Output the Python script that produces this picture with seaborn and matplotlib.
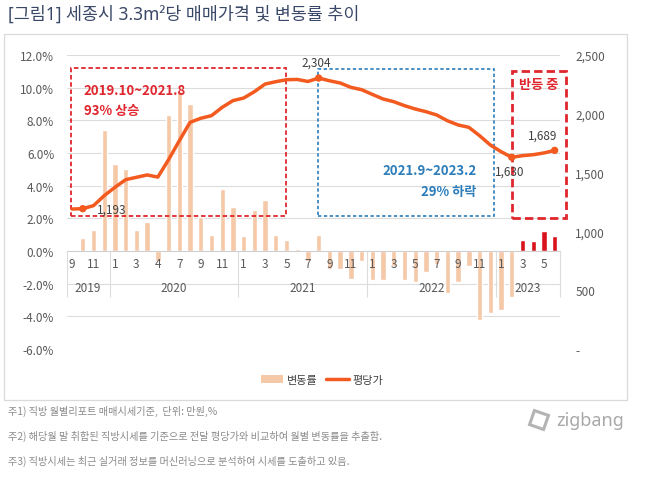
# 세종시 3.3m²당 매매가격 및 변동률 추이 (직방)

import numpy as np
import pandas as pd
import seaborn as sns
import matplotlib.pyplot as plt
import matplotlib.transforms as mtransforms
from matplotlib.patches import Patch, Rectangle, RegularPolygon
from matplotlib.lines import Line2D

# data

months = ["2019-09", "2019-10", "2019-11", "2019-12",
          "2020-01", "2020-02", "2020-03", "2020-04", "2020-05", "2020-06",
          "2020-07", "2020-08", "2020-09", "2020-10", "2020-11", "2020-12",
          "2021-01", "2021-02", "2021-03", "2021-04", "2021-05", "2021-06",
          "2021-07", "2021-08", "2021-09", "2021-10", "2021-11", "2021-12",
          "2022-01", "2022-02", "2022-03", "2022-04", "2022-05", "2022-06",
          "2022-07", "2022-08", "2022-09", "2022-10", "2022-11", "2022-12",
          "2023-01", "2023-02", "2023-03", "2023-04", "2023-05", "2023-06"]

month_labels = ["9", "11", "1", "3", "4", "7", "9", "11", "1", "3", "5", "7",
                "9", "11", "1", "3", "5", "7", "9", "11", "1", "3", "5"]

rates = [0.0, 0.8, 1.3, 7.4,
         5.3, 5.0, 1.3, 1.8, -0.6, 8.3, 9.8, 9.0, 2.1, 1.0, 3.8, 2.7,
         0.9, 2.5, 3.1, 1.0, 0.7, 0.1, -0.6, 1.0, -1.1, -1.1, -1.7, -0.6,
         -1.8, -1.8, -0.9, -1.8, -1.9, -1.3, -0.8, -2.6, -1.9, -0.9, -4.2, -3.8,
         -3.6, -2.8, 0.7, 0.6, 1.2, 0.9]

prices = [1190, 1193, 1219, 1304,
          1375, 1440, 1460, 1480, 1462, 1610, 1771, 1927, 1962, 1984, 2055, 2112,
          2134, 2188, 2253, 2273, 2290, 2292, 2275, 2304, 2281, 2262, 2225, 2205,
          2165, 2126, 2103, 2069, 2041, 2018, 1990, 1941, 1905, 1885, 1814, 1735,
          1678, 1630, 1644, 1652, 1667, 1689]

# labelled points on the price line: index, text offset (px)
labelled = {1: (14, 0), 23: (-2, 16), 41: (-2, -14), 45: (-12, 15)}

peach = "#F5C8A8"
red = "#D9131C"
line_color = "#F25A1F"
grid_color = "#DCDCDC"
tick_color = "#595959"

df = pd.DataFrame({"month": months, "rate": rates, "price": prices})
df["pos"] = np.arange(len(df))
df["year"] = df["month"].str[:4]
bar_colors = [red if m >= "2023-03" else peach for m in months]

W, H = 664, 485


def fx(x):
    return x / W


def fy(y):
    return 1 - y / H


sns.set_style("white")
plt.rcParams["font.family"] = ["Noto Sans CJK KR", "DejaVu Sans"]

fig = plt.figure(figsize=(W / 100, H / 100), dpi=100)

# chart frame
fig.add_artist(Rectangle((fx(4), fy(401)), (627 - 4) / W, (401 - 35) / H,
                         transform=fig.transFigure, fill=False,
                         edgecolor="#DADADA", lw=0.9))

ax = fig.add_axes([fx(66.7), fy(350), (560 - 66.7) / W, 294 / H])

# bars - monthly change rate
sns.barplot(data=df, x="pos", y="rate", hue="pos", palette=bar_colors,
            legend=False, width=0.5, saturation=1, ax=ax, zorder=1)

yt = np.arange(-6, 13, 2)
for v in yt:
    if v != 0:
        ax.axhline(v, color=grid_color, lw=0.8, zorder=0)
ax.set_axisbelow(False)
ax.set_ylim(-6, 12)
ax.set_yticks(yt, labels=[f"{v:.1f}%" for v in yt])
ax.tick_params(axis="y", length=0, pad=9, labelsize=8.5, labelcolor=tick_color)

# two level category axis: months on the zero line, years below
ax.spines["bottom"].set_position(("data", 0))
ax.spines["bottom"].set_color("#CFCFCF")
for s in ["left", "right", "top"]:
    ax.spines[s].set_visible(False)
ax.set_xticks(df["pos"][::2], labels=month_labels)
year_change = df.index[df["year"] != df["year"].shift()].tolist()[1:]
bounds = [-0.5] + [i - 0.5 for i in year_change] + [len(df) - 0.5]
ax.set_xticks(bounds, minor=True)
ax.tick_params(axis="x", which="major", bottom=False, length=0, pad=4,
               labelsize=8.5, labelcolor=tick_color)
ax.tick_params(axis="x", which="minor", bottom=True, length=33, width=0.8,
               color=grid_color, direction="out")
for yr, grp in df.groupby("year"):
    ax.text(grp["pos"].mean(), -2.22, yr, ha="center", va="center",
            fontsize=8.5, color=tick_color)
ax.set_xlabel("")
ax.set_ylabel("")

# line - price per 3.3m2
ax2 = ax.twinx()
sns.lineplot(data=df, x="pos", y="price", ax=ax2, color=line_color, lw=2.5,
             solid_capstyle="round", solid_joinstyle="round", zorder=3)
pts = df.loc[list(labelled)]
sns.scatterplot(data=pts, x="pos", y="price", ax=ax2, color=line_color,
                s=28, edgecolor="none", zorder=4)
for i, (dx, dy) in labelled.items():
    ax2.annotate(f"{prices[i]:,}", (i, prices[i]), xytext=(dx, dy),
                 textcoords="offset pixels", fontsize=8.5, color="#404040",
                 ha="left" if dx > 5 else "center", va="center")
ax2.set_ylim(0, 2500)
rt = np.arange(0, 2501, 500)
ax2.set_yticks(rt, labels=["-" if v == 0 else f"{v:,}" for v in rt])
ax2.tick_params(axis="y", length=0, pad=11, labelsize=8.5, labelcolor=tick_color)
for s in ax2.spines.values():
    s.set_visible(False)
ax2.set_xlabel("")
ax2.set_ylabel("")
ax.set_xlim(-0.5, len(df) - 0.5)

# highlight boxes
ax.add_patch(Rectangle((-0.12, 2.16), 20.08, 9.03, fill=False, edgecolor="#E0262E",
                       lw=1.3, linestyle=(0, (2.5, 1.5)), zorder=5, clip_on=False))
ax.text(1.1, 9.88, "2019.10~2021.8", color="#E0262E", fontsize=9.5,
        fontweight="bold", va="center")
ax.text(1.1, 8.66, "93% 상승", color="#E0262E", fontsize=9.5,
        fontweight="bold", va="center")

ax.add_patch(Rectangle((22.97, 2.12), 16.39, 9.02, fill=False, edgecolor="#2C7DBA",
                       lw=1.2, linestyle=(0, (2, 1.5)), zorder=5, clip_on=False))
ax.text(37.7, 4.93, "2021.9~2023.2", color="#2C7DBA", fontsize=9.5,
        fontweight="bold", ha="right", va="center")
ax.text(37.7, 3.67, "29% 하락", color="#2C7DBA", fontsize=9.5,
        fontweight="bold", ha="right", va="center")

ax.add_patch(Rectangle((41.04, 2.0), 5.04, 9.04, fill=False, edgecolor="#E0262E",
                       lw=2.0, linestyle=(0, (3, 1.5)), zorder=5, clip_on=False))
ax.text(43.55, 10.22, "반등 중", color="#E0262E", fontsize=9.5,
        fontweight="bold", ha="center", va="center")

# legend
handles = [Patch(facecolor=peach, edgecolor="none"),
           Line2D([], [], color=line_color, lw=2.5)]
fig.legend(handles, ["변동률", "평당가"], loc="center",
           bbox_to_anchor=(fx(322), fy(381)), ncol=2, frameon=False,
           fontsize=8, handlelength=2.0, handleheight=0.7, columnspacing=0.8,
           handletextpad=0.3, labelcolor="#404040")

# title and notes
fig.text(fx(8), fy(15), "[그림1] 세종시 3.3m²당 매매가격 및 변동률 추이",
         fontsize=12.5, color="#3A4868", va="center", fontweight="medium",
         family=["Noto Sans", "Noto Sans CJK KR", "DejaVu Sans"])
notes = ["주1) 직방 월별리포트 매매시세기준,  단위: 만원,%",
         "주2) 해당월 말 취합된 직방시세를 기준으로 전달 평당가와 비교하여 월별 변동률을 추출함.",
         "주3) 직방시세는 최근 실거래 정보를 머신러닝으로 분석하여 시세를 도출하고 있음."]
for k, note in enumerate(notes):
    fig.text(fx(8), fy(411 + 25 * k), note, fontsize=7.3, color="#8A8A8A",
             va="center")

# zigbang logo
fig.add_artist(RegularPolygon((539, H - 421), 4, radius=10.5, orientation=0.45,
                              transform=mtransforms.IdentityTransform(),
                              fill=False, edgecolor="#B4B4B4", lw=2.2))
fig.text(fx(556), fy(421), "zigbang", fontsize=13, color="#A8A8A8",
         va="center", family=["Noto Sans", "DejaVu Sans"])

fig.savefig("out.png", dpi=100)
